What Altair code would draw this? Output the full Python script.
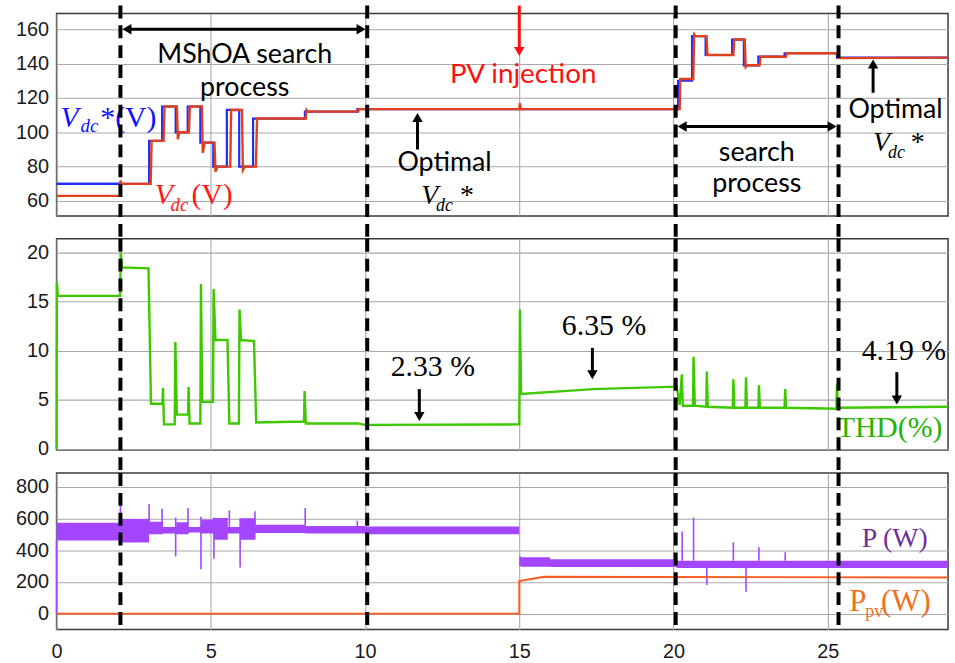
import altair as alt
import pandas as pd

T_END = 28.9

# ---- DC-link voltage: reference Vdc* (step-after) ----
vref_t = [0, 3.0, 3.42, 3.86, 4.25, 4.66, 5.08, 5.52, 5.92, 6.37, 8.05, 9.75,
          20.15, 20.6, 21.04, 21.9, 22.28, 22.75, 23.6, 25.3, 28.9]
vref_v = [70, 95, 115, 100, 115, 94, 80, 113, 80, 108, 112, 113.5,
          130, 156, 145, 154, 139, 144, 146, 143.5, 143.5]

# ---- DC-link voltage: measured Vdc ----
vdc_t = [0, 2.07, 2.07, 2.1, 3.05, 3.08, 3.47, 3.5, 3.9, 3.93, 3.98, 4.29, 4.32,
         4.71, 4.74, 4.8, 5.12, 5.15, 5.22, 5.63, 5.66, 6.01, 6.04, 6.1, 6.46, 6.5,
         8.08, 8.1, 8.15, 9.78, 9.8, 15.0, 15.02, 15.05, 20.2, 20.22, 20.64, 20.67,
         20.72, 21.07, 21.1, 21.94, 21.97, 22.31, 22.34, 22.4, 22.79, 22.82, 23.64,
         23.67, 25.34, 25.37, 28.9]
vdc_v = [63, 63, 72, 70, 70, 95, 95, 115, 115, 96, 100, 100, 115,
         115, 88, 94, 94, 77, 80, 80, 113, 113, 78, 80, 80, 108,
         108, 113, 112, 112, 113.5, 113.5, 117, 113.5, 113.5, 131, 131, 157,
         156, 156, 145, 145, 154, 154, 138, 139, 139, 144, 144,
         146, 146, 143.2, 143.5]

# ---- THD (%) ----
thd_t = [0, 0.01, 0.04, 2.06, 2.08, 2.12, 2.98, 3.06, 3.43, 3.45, 3.48, 3.83, 3.85,
         3.9, 4.26, 4.28, 4.31, 4.66, 4.68, 4.72, 5.07, 5.09, 5.15, 5.54, 5.6, 5.91,
         5.93, 5.98, 6.4, 6.47, 8.02, 8.04, 8.08, 9.75, 10.0, 15.0, 15.02, 15.06,
         17.4, 20.1, 20.2, 20.27, 20.3, 20.63, 20.65, 20.69, 21.06, 21.08, 21.11,
         21.92, 21.94, 21.97, 22.33, 22.35, 22.38, 22.75, 22.77, 22.8, 23.6, 23.62,
         23.65, 25.28, 25.3, 25.33, 28.9]
thd_v = [0, 17.0, 15.6, 15.6, 20.0, 18.5, 18.4, 4.6, 4.6, 6.2, 2.5, 2.5, 10.9,
         3.5, 3.5, 6.3, 2.6, 2.6, 16.8, 4.8, 4.8, 16.3, 11.1, 11.1, 2.6, 2.6,
         14.2, 11.1, 11.0, 2.7, 2.8, 5.9, 2.6, 2.6, 2.45, 2.5, 14.2, 5.6,
         6.1, 6.35, 4.5, 7.6, 4.4, 4.4, 9.4, 4.4, 4.3, 7.9, 4.3,
         4.2, 7.1, 4.2, 4.2, 7.3, 4.2, 4.2, 6.5, 4.2, 4.2, 6.1,
         4.2, 4.1, 6.6, 4.2, 4.3]

# ---- Active power P (W): oscillation envelope (step-after) ----
p_t = [0, 2.07, 3.0, 3.45, 3.88, 4.28, 4.68, 5.1, 5.55, 5.95, 6.45, 8.05, 10.0,
       15.0, 15.05, 16.0, 20.1, 28.9]
p_lo = [460, 448, 500, 505, 500, 510, 505, 465, 505, 465, 508, 505, 500,
        300, 295, 293, 288, 288]
p_hi = [572, 595, 578, 545, 575, 545, 592, 602, 545, 600, 560, 552, 548,
        362, 355, 342, 333, 333]

# ---- Active power P (W): transient spikes ----
ps_t = [0.0, 2.07, 3.0, 3.42, 3.86, 4.26, 4.68, 5.1, 5.6, 5.95, 6.43, 8.06, 9.75,
        20.28, 20.65, 21.08, 21.94, 22.35, 22.77, 23.62]
ps_lo = [0, 575, 578, 545, 360, 545, 280, 345, 545, 290, 560, 552, 548,
         333, 333, 180, 333, 138, 333, 333]
ps_hi = [460, 690, 690, 660, 605, 665, 610, 605, 650, 600, 645, 665, 585,
         517, 604, 288, 449, 288, 418, 387]

# ---- PV power Ppv (W) ----
ppv_t = [0, 15.0, 15.0, 15.8, 28.9]
ppv_v = [0, 0, 205, 232, 228]

# ---- Boundaries of the search / operating intervals ----
bounds_t = [2.07, 10.07, 20.07, 25.35]

SANS = "Lato"
SERIF = "Liberation Serif"
TICKS = [0, 5, 10, 15, 20, 25]
W = 898

xs = alt.Scale(domain=[0, T_END], nice=False, zero=False)
ax_plain = alt.Axis(title=None, labels=False, ticks=False, domain=False,
                    grid=True, values=TICKS)
ax_time = alt.Axis(title=None, labels=True, ticks=False, domain=False,
                   grid=True, values=TICKS, labelPadding=12, labelFontSize=20,
                   labelFlush=False)


def ax_y(vals):
    return alt.Axis(title=None, ticks=False, domain=False, grid=True,
                    values=vals, labelPadding=8)


def panel(ydom, yvals, xaxis):
    ysc = alt.Scale(domain=ydom, nice=False, zero=False)
    yax = ax_y(yvals)

    def X(f):
        return alt.X(f"{f}:Q", scale=xs, axis=xaxis)

    def Y(f):
        return alt.Y(f"{f}:Q", scale=ysc, axis=yax)

    def text(x, y, s, size, color="black", font=SERIF, style="normal",
             dx=0, dy=0, align="left"):
        return alt.Chart(pd.DataFrame({"t": [x], "v": [y]})).mark_text(
            text=s, align=align, baseline="alphabetic", font=font,
            fontSize=size, fontStyle=style, color=color, dx=dx, dy=dy
        ).encode(x=X("t"), y=Y("v"))

    def shaft(x0, y0, x1, y1, color="black", width=3):
        d = pd.DataFrame({"t": [x0], "v": [y0], "t2": [x1], "v2": [y1]})
        return alt.Chart(d).mark_rule(color=color, strokeWidth=width).encode(
            x=X("t"), y=Y("v"), x2="t2:Q", y2="v2:Q")

    def head(x, y, shape, color="black", size=110):
        d = pd.DataFrame({"t": [x], "v": [y]})
        return alt.Chart(d).mark_point(shape=shape, filled=True, color=color,
                                       size=size, opacity=1, strokeWidth=0
                                       ).encode(x=X("t"), y=Y("v"))

    return X, Y, text, shaft, head


def bounds_layer(X, y_from, y_to):
    return alt.Chart(pd.DataFrame({"t": bounds_t})).mark_rule(
        color="black", strokeWidth=4, strokeDash=[13, 7]
    ).encode(x=X("t"), y=alt.value(y_from), y2=alt.value(y_to))


# panel heights (px) and vertical gap between panels
H1, H2, H3 = 204, 212.7, 157.6
GAP = 23

# ================= Panel 1: DC-link voltage =================
X1, Y1, text1, shaft1, head1 = panel([51.3, 169.2], [60, 80, 100, 120, 140, 160], ax_plain)
ref_df = pd.DataFrame({"t": vref_t, "v": vref_v})
vdc_df = pd.DataFrame({"t": vdc_t, "v": vdc_v})

top = alt.layer(
    alt.Chart(ref_df).mark_line(color="#1f2bff", strokeWidth=2.2,
                                interpolate="step-after").encode(x=X1("t"), y=Y1("v")),
    alt.Chart(pd.DataFrame({"t": [0, 2.07], "v": [70, 70]})).mark_line(
        color="#1f2bff", strokeWidth=2.2).encode(x=X1("t"), y=Y1("v")),
    alt.Chart(vdc_df).mark_line(color="#e2401c", strokeWidth=2.4).encode(
        x=X1("t"), y=Y1("v")),
    # MShOA search interval
    shaft1(2.3, 160, 9.85, 160),
    head1(2.28, 160, "triangle-left"),
    head1(9.87, 160, "triangle-right"),
    text1(6.1, 140.3, "MShOA search", 27, font=SANS, align="center"),
    text1(6.1, 120.9, "process", 27, font=SANS, align="center"),
    # PV injection instant
    shaft1(15.0, 173.8, 15.0, 148.0, color="#ff1010"),
    head1(15.0, 147.0, "triangle-down", color="#ff1010"),
    text1(12.75, 128.8, "PV injection", 28, color="#ff1010", font=SANS),
    # Vdc* and Vdc labels
    text1(0.13, 102.8, "V", 30, color="#1010ff", style="italic"),
    text1(0.13, 102.8, "dc", 19, color="#1010ff", style="italic", dx=20, dy=5),
    text1(0.13, 102.8, "*(V)", 30, color="#1010ff", dx=40),
    text1(3.18, 58.3, "V", 30, color="#ff1a1a", style="italic"),
    text1(3.18, 58.3, "dc", 19, color="#ff1a1a", style="italic", dx=16, dy=7),
    text1(3.18, 58.3, "(V)", 30, color="#ff1a1a", dx=37),
    # optimal Vdc* after MShOA
    shaft1(11.7, 90, 11.7, 106),
    head1(11.7, 108.6, "triangle-up"),
    text1(11.05, 77.3, "Optimal", 27, font=SANS),
    text1(11.82, 58.3, "V", 28, style="italic"),
    text1(11.82, 58.3, "dc", 18, style="italic", dx=15, dy=7),
    text1(11.82, 58.3, "*", 28, dx=39),
    # second search interval
    shaft1(20.3, 103.4, 25.12, 103.4),
    head1(20.28, 103.4, "triangle-left"),
    head1(25.14, 103.4, "triangle-right"),
    text1(22.7, 83.1, "search", 27, font=SANS, align="center"),
    text1(22.7, 65.2, "process", 27, font=SANS, align="center"),
    # optimal Vdc* after second search
    shaft1(26.47, 123, 26.47, 138),
    head1(26.47, 139.8, "triangle-up"),
    text1(25.67, 108.6, "Optimal", 27, font=SANS),
    text1(26.47, 88.9, "V", 28, style="italic"),
    text1(26.47, 88.9, "dc", 18, style="italic", dx=15, dy=7),
    text1(26.47, 88.9, "*", 28, dx=38),
    bounds_layer(X1, -8, H1 + GAP),
).properties(width=W, height=H1)

# ================= Panel 2: THD =================
X2, Y2, text2, shaft2, head2 = panel([-0.1, 21.42], [0, 5, 10, 15, 20], ax_plain)
thd_df = pd.DataFrame({"t": thd_t, "v": thd_v})

mid = alt.layer(
    alt.Chart(thd_df).mark_line(color="#3ec800", strokeWidth=2.4).encode(
        x=X2("t"), y=Y2("v")),
    text2(10.83, 7.46, "2.33 %", 30),
    shaft2(11.76, 6.1, 11.76, 3.6),
    head2(11.76, 3.3, "triangle-down"),
    text2(16.38, 11.64, "6.35 %", 30),
    shaft2(17.37, 10.3, 17.37, 7.8),
    head2(17.37, 7.55, "triangle-down"),
    text2(26.1, 9.1, "4.19 %", 30),
    shaft2(27.24, 7.83, 27.24, 5.3),
    head2(27.24, 5.0, "triangle-down"),
    text2(25.29, 1.18, "THD(%)", 30, color="#26b400"),
    bounds_layer(X2, 0, H2 + GAP),
).properties(width=W, height=H2)

# ================= Panel 3: powers =================
X3, Y3, text3, shaft3, head3 = panel([-100, 885], [0, 200, 400, 600, 800], ax_time)
p_df = pd.DataFrame({"t": p_t, "lo": p_lo, "hi": p_hi})
ps_df = pd.DataFrame({"t": ps_t, "lo": ps_lo, "hi": ps_hi})
ppv_df = pd.DataFrame({"t": ppv_t, "v": ppv_v})

bot = alt.layer(
    alt.Chart(p_df).mark_area(color="#a445ff", interpolate="step-after",
                              opacity=1).encode(x=X3("t"), y=Y3("lo"), y2="hi:Q"),
    alt.Chart(ps_df).mark_rule(color="#a445ff", strokeWidth=1.6).encode(
        x=X3("t"), y=Y3("lo"), y2="hi:Q"),
    alt.Chart(ppv_df).mark_line(color="#ff5a1f", strokeWidth=2).encode(
        x=X3("t"), y=Y3("v")),
    text3(26.1, 418, "P (W)", 28, color="#7030a0"),
    text3(25.7, 14, "P", 31, color="#f0701e"),
    text3(25.7, 14, "pv", 18, color="#f0701e", dx=16, dy=6),
    text3(25.7, 14, "(W)", 31, color="#f0701e", dx=32),
    bounds_layer(X3, 0, H3 + 2),
).properties(width=W, height=H3)

chart = alt.vconcat(
    top, mid, bot,
    spacing=GAP,
    bounds="flush",
).properties(
    padding={"left": 0, "top": 0, "right": 1, "bottom": 0},
    background="white",
).configure_view(
    stroke="#3a3a3a", strokeWidth=1.5
).configure_axis(
    gridColor="#a9a9a9", gridWidth=1.1, gridOpacity=1,
    labelFont="Liberation Sans", labelFontSize=20, labelColor="#1a1a1a",
    minExtent=56, maxExtent=56
)

chart.save("out.html", embed_options={"renderer": "svg", "actions": False})
